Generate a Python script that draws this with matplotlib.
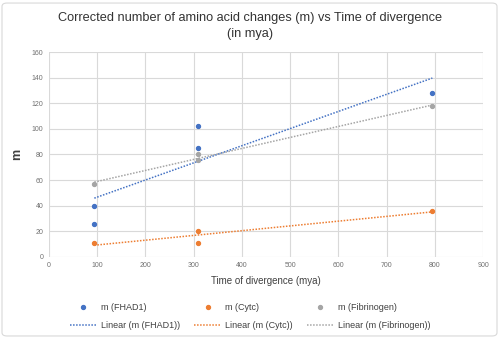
import numpy as np
import matplotlib.pyplot as plt
from matplotlib.patches import FancyBboxPatch

# time of divergence (mya) and corrected amino acid changes
fhad1_x = [94, 94, 310, 310, 795]
fhad1_m = [40, 25.5, 102.5, 85, 128]

cytc_x = [94, 310, 310, 795]
cytc_m = [11, 20.5, 11, 36]

fib_x = [94, 310, 310, 795]
fib_m = [57, 80, 76, 118]

series = [
    ("m (FHAD1)", fhad1_x, fhad1_m, "#4472C4"),
    ("m (Cytc)", cytc_x, cytc_m, "#ED7D31"),
    ("m (Fibrinogen)", fib_x, fib_m, "#A5A5A5"),
]

plt.rcParams['font.family'] = ['Liberation Sans', 'DejaVu Sans']

fig = plt.figure(figsize=(5, 3.38), dpi=100)
frame = FancyBboxPatch((0.004, 0.006), 0.99, 0.985, boxstyle="round,pad=0,rounding_size=0.01",
                       transform=fig.transFigure, facecolor='none',
                       edgecolor='#d9d9d9', linewidth=0.8, zorder=-10)
fig.patches.append(frame)
ax = fig.add_axes([0.098, 0.24, 0.868, 0.606])

scatters = []
lines = []
for name, x, y, c in series:
    s = ax.scatter(x, y, s=8, color=c, zorder=3, label=name)
    k, b = np.polyfit(x, y, 1)
    xs = np.array([min(x), max(x)])
    l, = ax.plot(xs, k * xs + b, color=c, linestyle=(0, (1, 1)), linewidth=1.1,
                 label=f"Linear ({name})", zorder=2)
    scatters.append(s)
    lines.append(l)

ax.set_xlim(0, 900)
ax.set_ylim(0, 160)
ax.set_xticks(range(0, 901, 100))
ax.set_yticks(range(0, 161, 20))
ax.grid(True, color='#d9d9d9', linewidth=0.8)
ax.set_axisbelow(True)
for sp in ax.spines.values():
    sp.set_visible(False)
ax.tick_params(length=0, labelsize=5, colors='#707070', pad=4)

ax.set_xlabel("Time of divergence (mya)", fontsize=7, color='#404040', labelpad=5)
ax.set_ylabel("m", fontsize=9, fontweight='bold', color='#404040', labelpad=6)
fig.suptitle("Corrected number of amino acid changes (m) vs Time of divergence\n(in mya)",
             x=0.5, y=0.965, fontsize=9.2, color='#333333', linespacing=1.5)

handles = [scatters[0], lines[0], scatters[1], lines[1], scatters[2], lines[2]]
fig.legend(handles=handles, loc='lower center', bbox_to_anchor=(0.5, 0.0), ncol=3,
           frameon=False, fontsize=6.5, handlelength=3, columnspacing=1.6,
           handletextpad=0.4, labelspacing=1.0, labelcolor='#404040', scatterpoints=1)

fig.savefig("out.png", dpi=100)
